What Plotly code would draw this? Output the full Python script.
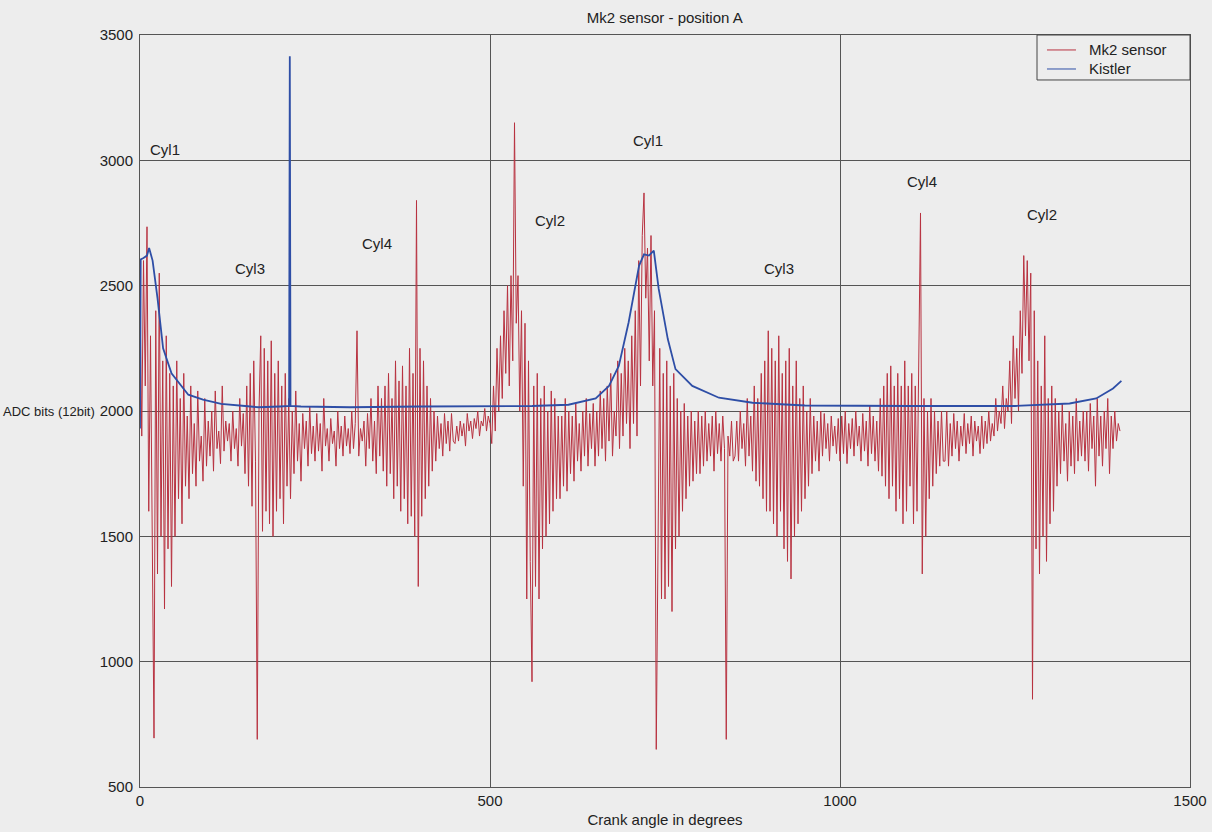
import plotly.graph_objects as go

# Mk2 sensor samples (every 2.5 degrees of crank angle)
mk2_start = 0.0
mk2_step = 2.5
mk2_values = [
    2450, 1900, 2600, 2100, 2735, 1600, 2300, 1300, 695, 2400, 1350, 2550, 1500, 2200, 1210, 2300, 1450, 2150, 1300, 2100,
    1500, 2200, 1650, 2050, 1550, 2150, 1700, 1980, 1650, 2100, 1750, 1950, 1700, 2080, 1800, 1900, 1720, 2050, 1780, 1960,
    1820, 2000, 1760, 2080, 1850, 1920, 1790, 2100, 1840, 1960, 1880, 1950, 1800, 2000, 1850, 1930, 1780, 2050, 1860, 1990,
    1750, 2100, 1700, 2150, 1620, 2200, 1800, 690, 2000, 2300, 1520, 2250, 1600, 2200, 1550, 2280, 1500, 2150, 1600, 2200,
    1650, 2100, 1550, 2150, 1700, 2050, 1650, 2000, 1750, 2080, 1800, 1950, 1720, 1990, 1850, 1960, 1780, 2020, 1830, 1940,
    1800, 1990, 1840, 1950, 1760, 2050, 1860, 1930, 1800, 1970, 1870, 1920, 1780, 2000, 1850, 1940, 1820, 1980, 1860, 1930,
    1830, 2000, 1850, 1950, 2320, 1820, 1930, 1880, 1960, 1780, 1990, 1850, 2050, 1800, 1960, 1750, 2100, 1820, 2050, 1760,
    2100, 1700, 2150, 1750, 2050, 1650, 2200, 1700, 2120, 1600, 2180, 1650, 2100, 1550, 2250, 1580, 2150, 1500, 2840, 1300,
    2250, 1580, 2200, 1650, 2100, 1700, 2050, 1760, 2000, 1800, 1980, 1850, 1950, 1820, 1990, 1870, 1960, 1840, 1990, 1880,
    1870, 1940, 1880, 1960, 1900, 1950, 1860, 1990, 1920, 1960, 1890, 1970, 1930, 2000, 1900, 1960, 1940, 2010, 1920, 1980,
    1950, 1870, 2100, 1920, 2250, 2000, 2300, 2050, 2400, 2150, 2500, 2100, 2540, 2200, 3150, 2350, 2540, 2000, 2400, 1700,
    2350, 1250, 2200, 1400, 920, 2100, 1300, 2150, 1250, 2050, 1450, 2100, 1500, 2000, 1550, 2080, 1600, 2050, 1650, 1980,
    1650, 1980, 1700, 2050, 1680, 2000, 1750, 1980, 1720, 2030, 1800, 1950, 1760, 2000, 1820, 2050, 1780, 1990, 1850, 2030,
    1780, 2000, 1820, 2080, 1850, 2050, 1800, 2100, 1880, 2150, 1820, 2000, 1900, 2200, 1850, 2150, 1900, 2250, 1950, 2200,
    1850, 2300, 1950, 2400, 1900, 2600, 2100, 2700, 2870, 2450, 2650, 2200, 2700, 2100, 2400, 650, 1500, 2250, 1250, 2150,
    1250, 2200, 1300, 2100, 1200, 2150, 1450, 2050, 1500, 2000, 1600, 2030, 1650, 1980, 1700, 2000, 1720, 1960, 1750, 2000,
    1750, 1980, 1780, 2000, 1800, 1950, 1820, 1980, 1760, 2000, 1830, 1950, 1800, 1980, 1850, 690, 1900, 1820, 1960, 1800,
    1820, 1960, 1800, 2000, 1850, 1950, 1780, 2050, 1820, 1980, 1760, 2100, 1720, 2050, 1700, 2150, 1650, 2200, 1600, 2320,
    1600, 2250, 1550, 2200, 1500, 2300, 1600, 2150, 1450, 2200, 1400, 2250, 1330, 2100, 1500, 2200, 1550, 2050, 1600, 2100,
    1650, 2000, 1700, 2050, 1750, 1980, 1800, 1960, 1760, 2000, 1820, 1990, 1850, 1950, 1800, 1980, 1860, 1940, 1830, 1970,
    1800, 1980, 1830, 2000, 1790, 1950, 1850, 1970, 1820, 2000, 1860, 1940, 1800, 1990, 1840, 1960, 1780, 2020, 1830, 1980,
    1800, 1960, 1760, 2050, 1740, 2100, 1700, 2150, 1650, 2180, 1700, 2100, 1600, 2150, 1650, 2100, 1550, 2200, 1600, 2100,
    1700, 2150, 1550, 2100, 1600, 2200, 2790, 1350, 2050, 1500, 2000, 1650, 2050, 1700, 2000, 1750, 1960, 1780, 2000, 1800,
    1800, 2000, 1780, 1950, 1820, 1990, 1850, 1960, 1800, 1940, 1860, 1990, 1830, 1950, 1870, 1980, 1820, 1960, 1880, 1940,
    1830, 1980, 1850, 1960, 1870, 2000, 1880, 1950, 1900, 2050, 1920, 2000, 1950, 2100, 1930, 2050, 2000, 2200, 1950, 2300,
    2050, 2250, 2000, 2400, 2150, 2620, 2300, 2600, 2200, 2550, 850, 2400, 1450, 2200, 1350, 2100, 1500, 2300, 1400, 2050,
    1550, 2100, 1600, 2050, 1700, 2000, 1750, 2030, 1800, 1950, 1720, 2000, 1780, 1980, 1750, 2050, 1800, 1960, 1820, 2000,
    1800, 2000, 1760, 2030, 1850, 1980, 1700, 2050, 1820, 1980, 1780, 2000, 1850, 2050, 1750, 1980, 1850, 2000, 1880, 1950,
    1920,
]
mk2_angles = [mk2_start + i * mk2_step for i in range(len(mk2_values))]

# Kistler reference (read points)
kistler_angles = [0, 1, 5, 10, 13, 18, 25, 33, 45, 69,
                  90, 116, 150, 169, 200, 213, 214, 215, 230, 300,
                  400, 500, 560, 612, 651, 670, 684, 698, 713, 720,
                  727, 734, 741, 754, 765, 789, 827, 875, 950, 1100,
                  1250, 1328, 1366, 1390, 1402]
kistler_values = [1930, 2605, 2610, 2620, 2650, 2600, 2450, 2250, 2150, 2065,
                  2045, 2028, 2020, 2015, 2018, 2020, 3415, 2020, 2018, 2015,
                  2018, 2020, 2020, 2025, 2050, 2100, 2180, 2353, 2580, 2625,
                  2620, 2640, 2487, 2287, 2167, 2100, 2053, 2033, 2022, 2020,
                  2020, 2030, 2050, 2090, 2120]

cyl_labels = ["Cyl1", "Cyl3", "Cyl4", "Cyl2", "Cyl1", "Cyl3", "Cyl4", "Cyl2"]
cyl_x = [35, 157, 339, 585, 725, 913, 1117, 1289]
cyl_y = [3045, 2570, 2670, 2760, 3080, 2570, 2915, 2785]

series_names = ["Mk2 sensor", "Kistler"]
series_colors = ["#b83240", "#2e4ea6"]

bg = "#ededed"
grid = "#555555"
txt = "#222222"
font_family = "Liberation Sans, Arial, sans-serif"
fs = 15

fig = go.Figure()
fig.add_trace(go.Scatter(x=mk2_angles, y=mk2_values, mode="lines",
                         name=series_names[0], showlegend=False,
                         line=dict(color=series_colors[0], width=1)))
fig.add_trace(go.Scatter(x=kistler_angles, y=kistler_values, mode="lines",
                         name=series_names[1], showlegend=False,
                         line=dict(color=series_colors[1], width=1.8)))

for t, xv, yv in zip(cyl_labels, cyl_x, cyl_y):
    fig.add_annotation(x=xv, y=yv, text=t, showarrow=False,
                       font=dict(size=fs, color=txt, family=font_family))

# horizontal y-axis label
fig.add_annotation(xref="paper", yref="y", x=-0.041, y=2000, text="ADC bits (12bit)",
                   showarrow=False, xanchor="right",
                   font=dict(size=13, color=txt, family=font_family))

# boxed legend in the top-right corner of the axes
fig.add_shape(type="rect", xref="paper", yref="paper",
              x0=0.8543, x1=1.0, y0=0.9402, y1=1.0,
              line=dict(color="#444444", width=1), fillcolor=bg, layer="above")
leg_y = [0.9801, 0.9548]
for name, col, yy in zip(series_names, series_colors, leg_y):
    fig.add_shape(type="line", xref="paper", yref="paper",
                  x0=0.8638, x1=0.8914, y0=yy, y1=yy,
                  line=dict(color=col, width=1), layer="above")
    fig.add_annotation(xref="paper", yref="paper", x=0.9019, y=yy, text=name,
                       showarrow=False, xanchor="left", yanchor="middle",
                       font=dict(size=fs, color=txt, family=font_family))

fig.update_layout(
    width=1212, height=832,
    paper_bgcolor=bg, plot_bgcolor=bg,
    margin=dict(l=140, r=22, t=35, b=45, autoexpand=False),
    font=dict(family=font_family, size=fs, color=txt),
    title=dict(text="Mk2 sensor - position A", x=0.5485, xanchor="center",
               y=0.979, yanchor="middle", font=dict(size=fs, color=txt)),
    showlegend=False,
)
fig.update_xaxes(range=[0, 1500], dtick=500, showgrid=True, gridcolor=grid, gridwidth=1,
                 zeroline=False, showline=True, linecolor=grid, mirror=True,
                 ticks="", title=dict(text="Crank angle in degrees", standoff=6,
                                      font=dict(size=fs)))
fig.update_yaxes(range=[500, 3500], dtick=500,
                 showgrid=True, gridcolor=grid, gridwidth=1,
                 zeroline=False, showline=True, linecolor=grid, mirror=True,
                 ticks="", ticklabelstandoff=3)

fig.write_html("out.html",
               config={"displayModeBar": False},
               post_script="document.body.style.margin='0';"
                           "document.body.style.background='#ededed';")
